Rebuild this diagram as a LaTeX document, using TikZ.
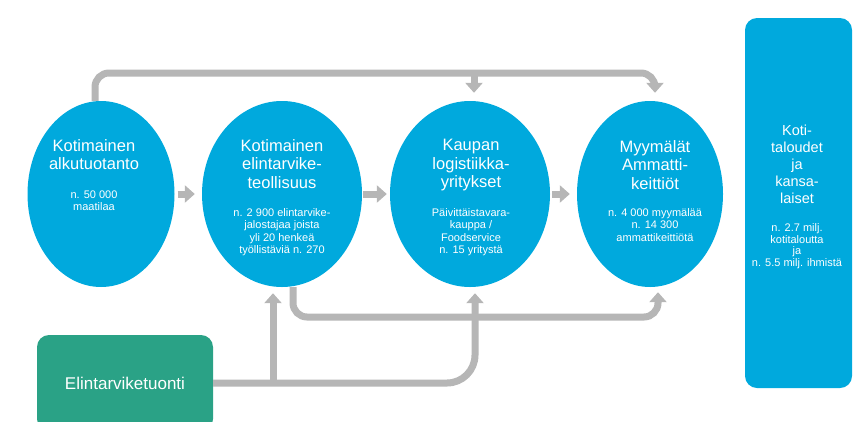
\documentclass[tikz,border=0pt]{standalone}
\usepackage{fontspec}
\setmainfont{Liberation Sans}
\usetikzlibrary{shapes.geometric,arrows.meta}
\definecolor{flowblue}{RGB}{0,169,221}
\definecolor{importgreen}{RGB}{42,162,134}
\definecolor{flowgray}{RGB}{182,182,182}

\begin{document}
\begin{tikzpicture}[x=1pt,y=-1pt,
    stage/.style={ellipse, fill=flowblue, inner sep=0pt, minimum height=186pt},
    flow/.style={draw=flowgray, line width=7pt, rounded corners=14pt,
        -{Triangle[width=17pt,length=10pt]}},
    bigtext/.style={text=white, align=center, anchor=north, inner sep=0pt,
        font=\fontsize{16.5}{18.5}\selectfont},
    smalltext/.style={text=white, align=center, anchor=north, inner sep=0pt,
        font=\fontsize{11}{12.3}\selectfont}]
    \useasboundingbox (0,0) rectangle (853,421);
    \clip (0,0) rectangle (853,421);

    % the four stages
    \node[stage, minimum width=147pt] (alku) at (101,194) {};
    \node[stage, minimum width=160pt] (teoll) at (282,194) {};
    \node[stage, minimum width=160pt] (logist) at (470,194) {};
    \node[stage, minimum width=146pt] (myym) at (650,194) {};
    \node[fill=flowblue, rounded corners=12pt, minimum width=107pt, minimum height=370pt] (koti) at (798.5,203) {};
    \node[fill=importgreen, rounded corners=12pt, minimum width=176pt, minimum height=96pt] (tuonti) at (125,383) {};

    \node[bigtext] (alkuT) at (94,139) {Kotimainen\\alkutuotanto};
    \node[smalltext] (alkuS) at (94,190.5) {n. 50 000\\maatilaa};
    \node[bigtext] (teollT) at (282,139) {Kotimainen\\elintarvike-\\teollisuus};
    \node[smalltext] (teollS) at (282,208.5) {n. 2 900 elintarvike-\\jalostajaa joista\\yli 20 henkeä\\työllistäviä n. 270};
    \node[bigtext] (logistT) at (471,139) {Kaupan\\logistiikka-\\yritykset};
    \node[smalltext] (logistS) at (471,208.5) {Päivittäistavara-\\kauppa /\\Foodservice\\n. 15 yritystä};
    \node[bigtext] (myymT) at (655,140) {Myymälät\\Ammatti-\\keittiöt};
    \node[smalltext] (myymS) at (655,208.5) {n. 4 000 myymälää\\n. 14 300\\ammattikeittiötä};
    \node[bigtext, font=\fontsize{14.5}{17}\selectfont] (kotiT) at (797,125) {Koti-\\taloudet\\ja\\kansa-\\laiset};
    \node[smalltext, font=\fontsize{11}{11.5}\selectfont] (kotiS) at (797,223.5) {n. 2.7 milj.\\kotitaloutta\\ja\\n. 5.5 milj. ihmistä};
    \node[text=white, font=\fontsize{17}{20}\selectfont] (tuontiT) at (tuonti.center) {Elintarviketuonti};

    % rails and arrow ends
    \coordinate (toprail) at (0,73);
    \coordinate (lowrail) at (0,317);
    \coordinate (logistin) at ([xshift=4pt,yshift=8pt]logist.north);
    \coordinate (myymin) at ([xshift=5pt,yshift=8pt]myym.north);
    \coordinate (myymout) at ([xshift=8pt,yshift=-5pt]myym.south);
    \coordinate (logistout) at ([xshift=5pt,yshift=-6pt]logist.south);
    \coordinate (teollout) at ([xshift=-9pt,yshift=-6pt]teoll.south);

    \draw[flow] ([xshift=3pt]alku.east) -- ([xshift=-7pt]teoll.west);
    \draw[flow] ([xshift=1pt]teoll.east) -- ([xshift=-3pt]logist.west);
    \draw[flow] ([xshift=2pt]logist.east) -- ([xshift=-7pt]myym.west);

    \draw[flow] ([xshift=-6pt]alku.north) |- (toprail -| myymin) -- (myymin);
    \draw[flow] (toprail -| logistin) -- (logistin);
    \draw[flow] ([xshift=11pt]teoll.south) |- (lowrail -| myymout) -- (myymout);
    \draw[flow, rounded corners=28pt] (tuonti.east) -| (logistout);
    \draw[flow] (tuonti.east -| teollout) -- (teollout);
\end{tikzpicture}
\end{document}
